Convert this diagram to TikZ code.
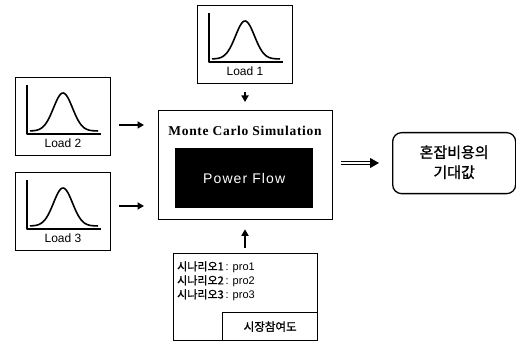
\documentclass[tikz,border=0pt]{standalone}
\usepackage{fontspec}
\setmainfont{Liberation Sans}
\newfontfamily\kr{Noto Sans CJK KR}[FakeBold=1.2]
\newfontfamily\tms{Liberation Serif}
\usetikzlibrary{arrows.meta}
\newcommand\bellin[1]{%
  \draw[curve] ([shift={(12,8)}]#1.north west) |- ([shift={(86,57)}]#1.north west);
  \draw[curve, shift={(#1.north west)}] plot[domain=15:83, samples=60, smooth]
     (\x, {54-38*exp(-((\x-48)^2)/(2*9.5^2))});
}
\begin{document}
\begin{tikzpicture}[x=1pt,y=-1pt,
  frame/.style={draw, line width=1.3pt, anchor=north west, inner sep=0pt},
  loadbox/.style={frame, minimum width=95pt, minimum height=78pt},
  curve/.style={line width=1.6pt, line join=round},
  lbl/.style={font=\fontsize{12}{14}\selectfont, inner sep=0pt},
  arr/.style={line width=1.8pt, -{Triangle[length=6.5pt,width=7pt]}},
  dbl/.style={line width=1pt, double distance=2.2pt, -{Triangle[length=9pt,width=10pt]}},
  krtxt/.style={font=\kr\fontsize{11}{13}\selectfont, inner sep=0pt, anchor=west},
  protxt/.style={font=\fontspec{Liberation Sans}\fontsize{11}{12}\selectfont}
]
\useasboundingbox (0,0) rectangle (516,347);

% load boxes
\node[loadbox] (l1) at (197,5) {};
\node[loadbox] (l2) at (15,77) {};
\node[loadbox] (l3) at (15,172) {};
\bellin{l1}
\bellin{l2}
\bellin{l3}
\node[lbl] (t1) at ([shift={(48,66)}]l1.north west) {Load 1};
\node[lbl] (t2) at ([shift={(48,66)}]l2.north west) {Load 2};
\node[lbl] (t3) at ([shift={(48,66)}]l3.north west) {Load 3};

% main box
\node[frame, minimum width=174pt, minimum height=109pt] (mc) at (158,110) {};
\node[inner sep=0pt, font=\tms\bfseries\fontsize{13.5}{15}\selectfont\addfontfeature{LetterSpace=5}] (title) at (245,131) {Monte Carlo Simulation};
\node[fill=black, anchor=north west, minimum width=138pt, minimum height=60pt, inner sep=0pt] (pf) at (175,148) {};
\node[text=white, inner sep=0pt, font=\fontsize{14}{16}\selectfont\addfontfeature{LetterSpace=8}] (pft) at (pf.center) {Power Flow};

% output box
\node[frame, rounded corners=9pt, minimum width=123pt, minimum height=61pt] (out) at (392,132) {};
\node[inner sep=0pt, align=center, font=\kr\fontsize{15}{20}\selectfont] (outt) at ([yshift=1]out.center) {혼잡비용의\\기대값};

% scenario box
\node[frame, minimum width=144pt, minimum height=87pt] (sc) at (173,253) {};
\node[frame, minimum width=95pt, minimum height=28pt] (mk) at (222,312) {};
\node[inner sep=0pt, font=\kr\fontsize{11.5}{13}\selectfont] (mkt) at (mk.center) {시장참여도};
\node[krtxt] (s1) at (177,267) {시나리오1\,{\fontspec{Liberation Sans}\fontsize{11}{12}\selectfont : pro1}};
\node[krtxt] (s2) at (177,281) {시나리오2\,{\fontspec{Liberation Sans}\fontsize{11}{12}\selectfont : pro2}};
\node[krtxt] (s3) at (177,295) {시나리오3\,{\fontspec{Liberation Sans}\fontsize{11}{12}\selectfont : pro3}};

% connectors
\draw[arr, shorten <=8pt, shorten >=8pt] (l1.south -| 245,0) -- (mc.north -| 245,0);
\draw[arr, shorten <=8pt, shorten >=14pt] (l2.east |- 0,125) -- (mc.west |- 0,125);
\draw[arr, shorten <=8pt, shorten >=14pt] (l3.east |- 0,206) -- (mc.west |- 0,206);
\draw[arr, shorten <=5pt, shorten >=9pt] (sc.north -| 245,0) -- (mc.south -| 245,0);
\draw[dbl, shorten <=8pt, shorten >=13pt] (mc.east |- 0,163) -- (out.west |- 0,163);
\end{tikzpicture}
\end{document}
